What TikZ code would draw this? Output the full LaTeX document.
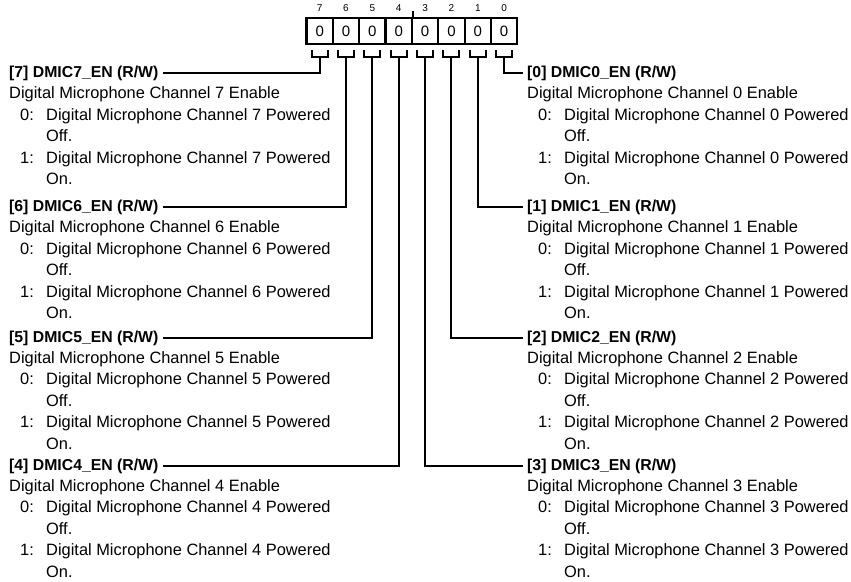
\documentclass[tikz,border=0pt]{standalone}
\usepackage{fontspec}
\setmainfont{Liberation Sans}
\tikzset{
  bitbox/.style={draw, line width=2.2pt, minimum width=26.35pt, minimum height=26pt, inner sep=0pt, font=\fontsize{15}{15}\selectfont},
  bitnum/.style={inner sep=0pt, font=\fontsize{10}{10}\selectfont},
  conn/.style={line width=2.1pt},
  ttl/.style={anchor=base west, inner sep=0pt, font=\bfseries\fontsize{15.8}{16}\selectfont},
  txt/.style={anchor=base west, inner sep=0pt, font=\fontsize{16.4}{18}\selectfont},
}
\newcommand\regblock[3]{%
  \node[ttl] (t#1) at (#2,#3) {[#1] DMIC#1\_EN (R/W)};
  \node[txt] (d#1) at (#2,#3+21.4) {Digital Microphone Channel #1 Enable};
  \node[txt] (za#1) at (#2+11,#3+42.8) {0:};
  \node[txt] (zb#1) at (#2+37,#3+42.8) {Digital Microphone Channel #1 Powered};
  \node[txt] (zc#1) at (#2+37,#3+64.2) {Off.};
  \node[txt] (oa#1) at (#2+11,#3+85.6) {1:};
  \node[txt] (ob#1) at (#2+37,#3+85.6) {Digital Microphone Channel #1 Powered};
  \node[txt] (oc#1) at (#2+37,#3+107) {On.};
}
\begin{document}
\begin{tikzpicture}[x=1pt,y=-1pt]
\useasboundingbox (0,0) rectangle (851,581);
\foreach \i in {0,...,7} {
  \pgfmathtruncatemacro\b{7-\i}
  \node[bitbox] (b\b) at ({306.5+26.35*(\i+0.5)}, 31) {0};
  \node[bitnum] (n\b) at ({306.5+26.35*(\i+0.5)}, 8) {\b};
  \draw[conn] ([xshift=-8pt,yshift=-5pt]b\b.south) -- ++(0,7) -- ++(16,0) -- ++(0,-7);
  \coordinate (s\b) at ([yshift=-12pt]b\b.south);
}
\draw[conn, line width=1.6pt] (b4.north east) -- ++(0,-6);
% left column
\regblock{7}{9}{77.5}
\regblock{6}{9}{211.5}
\regblock{5}{9}{342}
\regblock{4}{9}{470}
% right column
\regblock{0}{527}{77.5}
\regblock{1}{527}{211.5}
\regblock{2}{527}{342}
\regblock{3}{527}{470}
% connectors
\foreach \b in {7,6,5,4} {
  \draw[conn] (s\b) |- ([xshift=4pt]t\b.east);
}
\foreach \b in {0,1,2,3} {
  \draw[conn] (s\b) |- ([xshift=-4pt]t\b.west);
}
\end{tikzpicture}
\end{document}
